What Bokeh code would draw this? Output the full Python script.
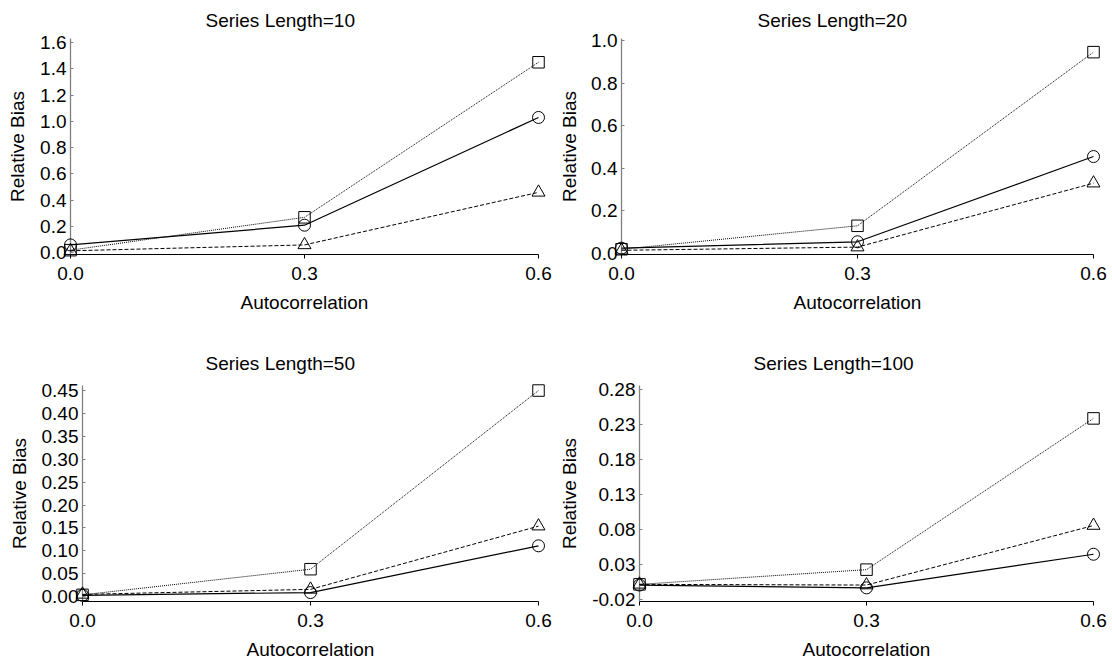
from bokeh.plotting import figure
from bokeh.layouts import row, column
from bokeh.models import Range1d, FixedTicker, NumeralTickFormatter, Title
from bokeh.embed import file_html
from bokeh.resources import INLINE

# ---------------- data ----------------
autocorr = [0.0, 0.3, 0.6]
x_ticks = [0.0, 0.3, 0.6]

titles = ["Series Length=10", "Series Length=20", "Series Length=50", "Series Length=100"]

square_10 = [0.02, 0.27, 1.45]
circle_10 = [0.06, 0.21, 1.03]
triangle_10 = [0.015, 0.06, 0.46]

square_20 = [0.02, 0.13, 0.945]
circle_20 = [0.025, 0.055, 0.455]
triangle_20 = [0.015, 0.03, 0.33]

square_50 = [0.004, 0.06, 0.45]
circle_50 = [0.003, 0.009, 0.111]
triangle_50 = [0.005, 0.016, 0.154]

square_100 = [0.001, 0.022, 0.238]
circle_100 = [0.0, -0.004, 0.044]
triangle_100 = [0.001, 0.0, 0.085]

y_ticks_10 = [0.0, 0.2, 0.4, 0.6, 0.8, 1.0, 1.2, 1.4, 1.6]
y_ticks_20 = [0.0, 0.2, 0.4, 0.6, 0.8, 1.0]
y_ticks_50 = [0.00, 0.05, 0.10, 0.15, 0.20, 0.25, 0.30, 0.35, 0.40, 0.45]
y_ticks_100 = [-0.02, 0.03, 0.08, 0.13, 0.18, 0.23, 0.28]

FONT = "Liberation Sans"


def panel(title, sq, ci, tr, yticks, yrange, fmt, w, h, left, right, top, bottom,
          ylab_standoff, title_offset, title_standoff):
    p = figure(width=w, height=h, output_backend="svg", toolbar_location=None,
               x_range=Range1d(0.0, 0.6), y_range=Range1d(*yrange),
               min_border_left=left, min_border_right=right,
               min_border_top=top, min_border_bottom=bottom)
    p.outline_line_color = None
    p.xgrid.visible = False
    p.ygrid.visible = False
    p.background_fill_color = "white"
    p.border_fill_color = "white"

    p.add_layout(Title(text=title, text_font=FONT, text_font_size="19px",
                       text_font_style="normal", text_color="black",
                       align="left", offset=title_offset,
                       vertical_align="middle", standoff=title_standoff), "above")

    xa = p.xaxis[0]
    xa.ticker = FixedTicker(ticks=x_ticks)
    xa.formatter = NumeralTickFormatter(format="0.0")
    xa.axis_line_color = "black"
    xa.axis_line_width = 1
    xa.major_tick_out = 4
    xa.major_tick_in = 0
    xa.major_tick_line_color = "black"
    xa.minor_tick_line_color = None
    xa.major_label_standoff = 8
    xa.major_label_text_font = FONT
    xa.major_label_text_font_size = "19px"
    xa.major_label_text_color = "black"
    xa.axis_label = "Autocorrelation"
    xa.axis_label_text_font = FONT
    xa.axis_label_text_font_size = "19px"
    xa.axis_label_text_font_style = "normal"
    xa.axis_label_text_color = "black"
    xa.axis_label_standoff = 9

    ya = p.yaxis[0]
    ya.ticker = FixedTicker(ticks=yticks)
    ya.formatter = NumeralTickFormatter(format=fmt)
    ya.axis_line_color = "#808080"
    ya.axis_line_width = 1.3
    ya.major_tick_out = 0
    ya.major_tick_in = 3
    ya.major_tick_line_color = "#808080"
    ya.minor_tick_line_color = None
    ya.major_label_standoff = 4
    ya.major_label_text_font = FONT
    ya.major_label_text_font_size = "19px"
    ya.major_label_text_color = "black"
    ya.axis_label = "Relative Bias"
    ya.axis_label_text_font = FONT
    ya.axis_label_text_font_size = "19px"
    ya.axis_label_text_font_style = "normal"
    ya.axis_label_text_color = "black"
    ya.axis_label_standoff = ylab_standoff

    rs = []
    rs.append(p.line(autocorr, sq, line_color="black", line_width=1, line_dash="1 1"))
    rs.append(p.line(autocorr, tr, line_color="black", line_width=1, line_dash="4 2"))
    rs.append(p.line(autocorr, ci, line_color="black", line_width=1.2))
    rs.append(p.scatter(autocorr, sq, marker="square", size=11.5, fill_color=None,
                        line_color="black", line_width=1))
    rs.append(p.scatter(autocorr, ci, marker="circle", size=12, fill_color=None,
                        line_color="black", line_width=1))
    rs.append(p.scatter(autocorr, tr, marker="triangle", size=13, fill_color=None,
                        line_color="black", line_width=1))
    for r in rs:
        r.level = "annotation"
    return p


p1 = panel(titles[0], square_10, circle_10, triangle_10, y_ticks_10, (-0.013, 1.631), "0.0",
           556, 320, 70, 18, 38, 66, 9, 135, 14)
p2 = panel(titles[1], square_20, circle_20, triangle_20, y_ticks_20, (-0.0047, 1.009), "0.0",
           556, 320, 65, 19, 38, 64, 8, 136, 14)
p3 = panel(titles[2], square_50, circle_50, triangle_50, y_ticks_50, (-0.0105, 0.461), "0.00",
           556, 348, 82, 18, 65, 67, 9, 123, 21)
p4 = panel(titles[3], square_100, circle_100, triangle_100, y_ticks_100, (-0.0235, 0.285), "0.00",
           556, 348, 83, 19, 65, 65, 9, 114, 21)

layout = column(row(p1, p2), row(p3, p4))

open("out.html", "w").write(file_html(layout, INLINE))
